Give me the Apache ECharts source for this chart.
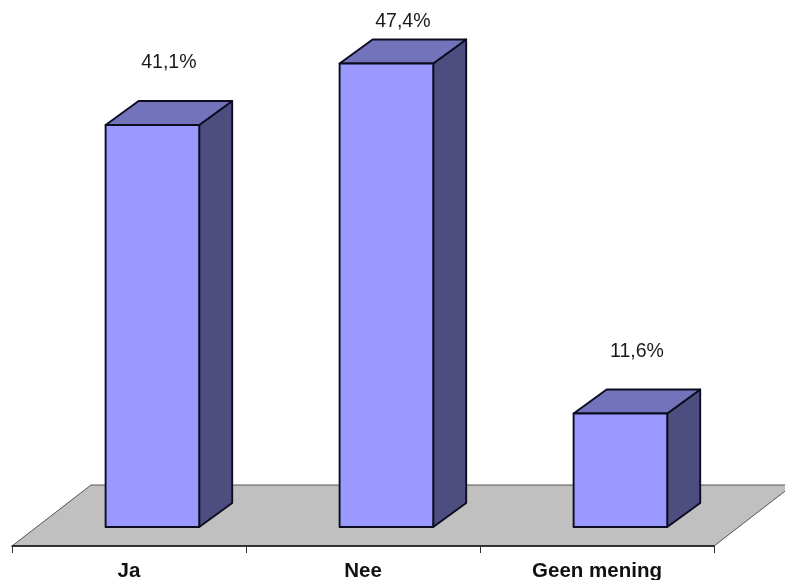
<!DOCTYPE html>
<html>
<head>
<meta charset="utf-8">
<style>html,body{margin:0;padding:0;background:#fff}#chart{width:785px;height:580px}</style>
<script src="https://cdn.jsdelivr.net/npm/echarts@6/dist/echarts.min.js"></script>
</head>
<body>
<div id="chart"></div>
<script>
// Poll results, in percent
const categories = ['Ja', 'Nee', 'Geen mening'];
const shares = [41.1, 47.4, 11.6];

// Oblique projection used for the fake 3D look
const floorDepth = { x: 79, y: -61 };
const barDepth = { x: 33, y: -24 };
const barInset = { x: 23.4, y: -19 };
const labelGap = 62;
const labelMinY = 22;

const colors = {
  front: '#9999ff', top: '#7373bb', side: '#4d4d80',
  floor: '#c0c0c0', floorEdge: '#555555', edge: '#0c0c20', text: '#1a1a1a'
};

const chart = echarts.init(document.getElementById('chart'), null, { renderer: 'canvas' });

function renderFloor(params, api) {
  const g = params.coordSys;
  const l = g.x, r = g.x + g.width, b = g.y + g.height;
  return {
    type: 'polygon',
    shape: { points: [
      [l, b], [r, b], [r + floorDepth.x, b + floorDepth.y], [l + floorDepth.x, b + floorDepth.y]
    ] },
    style: { fill: colors.floor, stroke: colors.floorEdge, lineWidth: 1 }
  };
}

function renderBar(params, api) {
  const cat = api.value(0), val = api.value(1);
  const base = api.coord([cat, 0]);
  const head = api.coord([cat, val]);
  const w = api.size([1, 0])[0] * 0.4;
  const x0 = base[0] + barInset.x - w / 2, x1 = x0 + w;
  const yb = base[1] + barInset.y, yt = head[1] + barInset.y;
  const dx = barDepth.x, dy = barDepth.y;
  const edge = { stroke: colors.edge, lineWidth: 1.9, lineJoin: 'round' };
  const face = (points, fill) => ({
    type: 'polygon', shape: { points }, style: Object.assign({ fill }, edge)
  });
  return {
    type: 'group',
    children: [
      face([[x1, yb], [x1 + dx, yb + dy], [x1 + dx, yt + dy], [x1, yt]], colors.side),
      face([[x0, yt], [x1, yt], [x1 + dx, yt + dy], [x0 + dx, yt + dy]], colors.top),
      face([[x0, yt], [x1, yt], [x1, yb], [x0, yb]], colors.front),
      {
        type: 'text',
        style: {
          x: (x0 + x1 + dx) / 2,
          y: Math.max(yt - labelGap, labelMinY),
          text: val.toFixed(1).replace('.', ',') + '%',
          fill: colors.text,
          font: '19.5px "Liberation Sans", Arial, sans-serif',
          align: 'center',
          verticalAlign: 'middle'
        }
      }
    ]
  };
}

chart.setOption({
  animation: false,
  backgroundColor: '#ffffff',
  grid: { left: 12, top: 57, width: 702, height: 489, containLabel: false, outerBoundsMode: 'none' },
  xAxis: {
    type: 'category',
    data: categories,
    z: 5,
    axisLine: { show: true, lineStyle: { color: '#111111', width: 1.5 } },
    axisTick: { show: true, length: 7, alignWithLabel: false, lineStyle: { color: '#333333', width: 1 } },
    axisLabel: {
      interval: 0, margin: 15, color: '#111111',
      fontFamily: '"Liberation Sans", Arial, sans-serif',
      fontSize: 20.5, fontWeight: 'bold'
    }
  },
  yAxis: { type: 'value', min: 0, max: 50, show: false, splitLine: { show: false } },
  series: [
    { type: 'custom', z: 1, silent: true, renderItem: renderFloor, data: [[0, 0]], clip: false },
    {
      type: 'custom', z: 2, renderItem: renderBar, clip: false,
      encode: { x: 0, y: 1 },
      data: shares.map((v, i) => [i, v])
    }
  ]
});
</script>
</body>
</html>
